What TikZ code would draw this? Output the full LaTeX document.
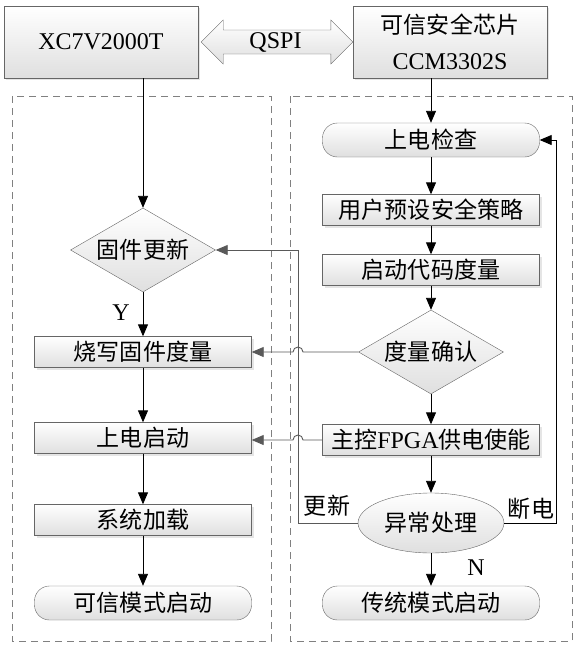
\documentclass[tikz,border=0pt]{standalone}
\usepackage{fontspec}
\setmainfont{Liberation Serif}
\newfontfamily\cjk[Scale=0.96]{Noto Sans CJK SC}
\usetikzlibrary{arrows.meta,positioning,shapes.geometric,calc,shadows}

\tikzset{
  box/.style={draw=gray!80!black, top color=white, bottom color=gray!25,
    drop shadow={shadow xshift=2pt, shadow yshift=-2pt, fill=gray!40},
    minimum width=217pt, minimum height=31pt, inner sep=0pt},
  term/.style={draw=gray!80!black, top color=white, bottom color=gray!25,
    rounded corners=15pt, minimum width=217pt, minimum height=34pt, inner sep=0pt},
  decide/.style={diamond, aspect=1.73, draw=gray!80!black, top color=white, bottom color=gray!25,
    minimum width=145pt, minimum height=84pt, inner sep=0pt},
  chipbox/.style={draw=gray!80!black, top color=white, bottom color=gray!25,
    drop shadow={shadow xshift=2pt, shadow yshift=-2pt, fill=gray!40},
    minimum width=194pt, minimum height=72pt, inner sep=0pt, align=center},
  dashbox/.style={draw=gray, line width=1pt, dash pattern=on 7pt off 5pt},
  arr/.style={draw=black, line width=0.9pt, -{Triangle[length=12pt,width=10pt]}},
  back/.style={draw=gray!70!black, line width=0.9pt, -{Triangle[length=12pt,width=10pt]}},
}

\begin{document}
\begin{tikzpicture}[x=1pt, y=-1pt, font=\fontsize{24pt}{28pt}\selectfont]
  \useasboundingbox (0,0) rectangle (579,648);

  %% Chips
  \node[chipbox] (xc) at (101,42) {XC7V2000T};
  \node[chipbox] (ccm) at (450,42) {{\cjk 可信安全芯片}\\[8pt]CCM3302S};
  \draw[draw=gray!80!black, top color=white, bottom color=gray!25]
    ($(xc.east)+(3pt,0)$) -- ++(22pt,22pt) -- ++(0,-10pt)
    -- ($(ccm.west)+(-22pt,12pt)$) -- ++(0,10pt) -- (ccm.west)
    -- ++(-22pt,-22pt) -- ++(0,10pt)
    -- ($(xc.east)+(25pt,-12pt)$) -- ++(0,-10pt) -- cycle;
  \node (qspi) at ($(xc.east)!0.5!(ccm.west)$) {QSPI};

  %% Dashed regions
  \draw[dashbox] (12,96) rectangle (271,641);
  \draw[dashbox] (290,96) rectangle (572,641);

  %% Left column
  \node[decide] (fw) at (143,250) {\cjk 固件更新};
  \node[box] (burn) at (143,352) {\cjk 烧写固件度量};
  \node[box] (pwr) at (143,438) {\cjk 上电启动};
  \node[box] (load) at (143,520) {\cjk 系统加载};
  \node[term] (trust) at (143,603) {\cjk 可信模式启动};

  %% Right column
  \node[term] (chk) at (431,140) {\cjk 上电检查};
  \node[box] (policy) at (431,210) {\cjk 用户预设安全策略};
  \node[box] (meas) at (431,270) {\cjk 启动代码度量};
  \node[decide] (conf) at (431,352) {\cjk 度量确认};
  \node[box] (fpga) at (431,440) {{\cjk 主控}FPGA{\cjk 供电使能}};
  \node[ellipse, draw=gray!80!black, top color=white, bottom color=gray!25,
    minimum width=146pt, minimum height=60pt, inner sep=0pt] (exc) at (431,523) {\cjk 异常处理};
  \node[term] (legacy) at (431,603) {\cjk 传统模式启动};

  %% Labels
  \node (ylab) at (121,313) {Y};
  \node (nlab) at (476,568) {N};
  \node (updlab) at (327,506) {\cjk 更新};
  \node (offlab) at (531,509) {\cjk 断电};

  %% Flow arrows
  \draw[arr] (xc.south -| fw.north) -- (fw.north);
  \draw[arr] (fw.south) -- (burn.north);
  \draw[arr] (burn.south) -- (pwr.north);
  \draw[arr] (pwr.south) -- (load.north);
  \draw[arr] (load.south) -- (trust.north);
  \draw[arr] (ccm.south -| chk.north) -- (chk.north);
  \draw[arr] (chk.south) -- (policy.north);
  \draw[arr] (policy.south) -- (meas.north);
  \draw[arr] (meas.south) -- (conf.north);
  \draw[arr] (conf.south) -- (fpga.north);
  \draw[arr] (fpga.south) -- (exc.north);
  \draw[arr] (exc.south) -- (legacy.north);

  %% Loops
  \coordinate (upd) at (298,0);
  \coordinate (off) at (556,0);
  \draw[back] (exc.west) -- (exc.west -| upd) |- (fw.east);
  \draw[arr] (exc.east) -- (exc.east -| off) |- (chk.east);

  %% Cross links with jumps
  \draw[back] (conf.west) -- ($(conf.west -| upd)+(5pt,0)$)
    arc[start angle=0, end angle=180, radius=5pt] -- (burn.east);
  \draw[back] (fpga.west) -- ($(fpga.west -| upd)+(5pt,0)$)
    arc[start angle=0, end angle=180, radius=5pt] -- (pwr.east |- fpga.west);
\end{tikzpicture}
\end{document}
